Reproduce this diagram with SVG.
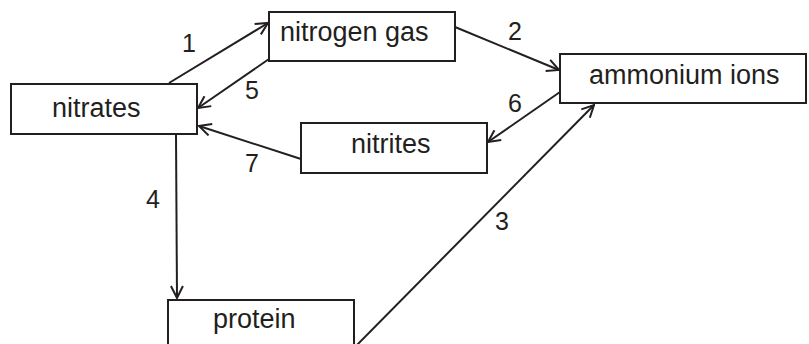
<svg xmlns="http://www.w3.org/2000/svg" width="809" height="344" viewBox="0 0 809 344">
<style>
.box{fill:#fff;stroke:#231f20;stroke-width:2}
.t{font-family:"Liberation Sans",Arial,sans-serif;font-size:27px;fill:#231f20}
.n{font-family:"Liberation Sans",Arial,sans-serif;font-size:25px;fill:#231f20}
.c{fill:none;stroke:#231f20;stroke-width:2;marker-end:url(#ah)}
</style>
<defs>
<marker id="ah" viewBox="0 0 14 14" refX="13" refY="7" markerWidth="14" markerHeight="14" markerUnits="userSpaceOnUse" orient="auto">
<path d="M1,1 L13,7 L1,13" fill="none" stroke="#231f20" stroke-width="2"/>
</marker>
</defs>
<rect width="809" height="344" fill="#fff"/>
<g id="connectors">
<line class="c" x1="169" y1="83" x2="268" y2="23"/>
<line class="c" x1="269" y1="59" x2="198" y2="108"/>
<line class="c" x1="301" y1="159" x2="199" y2="126"/>
<line class="c" x1="455" y1="27" x2="559" y2="70"/>
<line class="c" x1="560" y1="92" x2="488" y2="142"/>
<line class="c" x1="356" y1="346" x2="594" y2="105"/>
<line class="c" x1="176" y1="134" x2="177" y2="298"/>
<text class="n" x="182" y="52">1</text>
<text class="n" x="245" y="99">5</text>
<text class="n" x="245" y="172">7</text>
<text class="n" x="508" y="40">2</text>
<text class="n" x="508" y="112">6</text>
<text class="n" x="495" y="230">3</text>
<text class="n" x="146" y="208">4</text>
</g>
<g id="nitrates">
<rect class="box" x="11" y="84" width="186" height="50"/>
<text class="t" x="52" y="117">nitrates</text>
</g>
<g id="nitrogen-gas">
<rect class="box" x="269" y="12" width="186" height="49"/>
<text class="t" x="280" y="41">nitrogen gas</text>
</g>
<g id="ammonium-ions">
<rect class="box" x="560" y="54" width="246" height="49"/>
<text class="t" x="589" y="84">ammonium ions</text>
</g>
<g id="nitrites">
<rect class="box" x="301" y="123" width="186" height="50"/>
<text class="t" x="351" y="153">nitrites</text>
</g>
<g id="protein">
<rect class="box" x="168" y="300" width="186" height="52"/>
<text class="t" x="213" y="328">protein</text>
</g>
</svg>
